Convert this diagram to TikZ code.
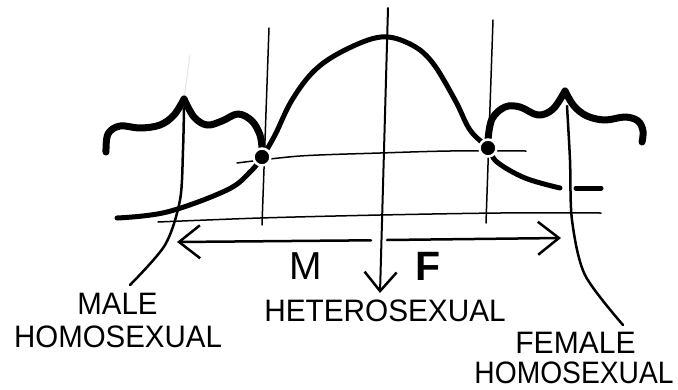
\documentclass[tikz,border=0pt]{standalone}
\usepackage{fontspec}
\usepackage{graphicx}
\setmainfont{Liberation Sans}
\usetikzlibrary{arrows.meta}
\tikzset{
  thinline/.style={line width=1.5pt, line cap=round},
  curveline/.style={line width=5pt, line cap=round, line join=round},
  braceline/.style={line width=7pt, line cap=round, line join=round},
  stemline/.style={line width=2.5pt, line cap=round},
  arrowline/.style={line width=2.5pt, line cap=round, -{Straight Barb[length=21pt,width=33pt,line width=2.5pt]}},
  dot/.style={circle, fill=black, draw=white, line width=2.5pt, minimum size=17pt, inner sep=0pt},
  lbl/.style={inner sep=0pt, font=\fontsize{31}{31}\selectfont},
  big/.style={inner sep=0pt, font=\fontsize{39}{39}\selectfont}
}
\begin{document}
\begin{tikzpicture}[x=1pt,y=-1pt]
\useasboundingbox (0,0) rectangle (678,389);
\fill[white] (0,0) rectangle (678,389);

% thin horizontal lines
\draw[thinline] plot[smooth] coordinates {(237,163) (300,156) (380,153) (450,151) (526,151)};
\draw[thinline] plot[smooth] coordinates {(158,222) (260,218) (380,215) (500,213) (601,213)};

% vertical guide lines
\draw[thinline] (269,28) -- (262,225);
\draw[thinline] (493,20) -- (486,223);

% bell curve
\draw[curveline] plot[smooth, tension=0.6] coordinates {(117,218) (167,212) (227,190) (250,172) (262,157) (275,135) (292,100) (315,70) (345,50) (381,37) (410,44) (432,62) (455,100) (470,130) (488,148) (497,162) (525,178) (560,188)};
\draw[curveline] (576,188) -- (601,188);

% left brace
\draw[gray!20, line width=1pt] (184,99) -- (190,55);
\draw[braceline] plot[smooth, tension=0.6] coordinates {(106,152) (108,134) (120,126) (140,128) (160,125) (174,115) (184,99)};
\draw[braceline] plot[smooth, tension=0.6] coordinates {(184,99) (194,117) (207,125) (222,121) (238,114) (252,121) (260,135) (262,148)};
% right brace
\draw[braceline] plot[smooth, tension=0.6] coordinates {(488,140) (492,119) (505,107) (520,107) (538,115) (553,109) (565,91)};
\draw[braceline] plot[smooth, tension=0.6] coordinates {(565,91) (574,106) (587,116) (605,120) (625,117) (638,121) (643,131) (642,142)};

% dots
\node[dot] (dl) at (262,157) {};
\node[dot] (dr) at (488,148) {};

% labels
\node[lbl] (male) at (117.5,303.5) {\scalebox{0.95}[1]{MALE}};
\node[lbl] (mhomo) at (118,336.5) {\scalebox{0.95}[1]{HOMOSEXUAL}};
\node[lbl] (hetero) at (385,311) {\scalebox{0.96}[1]{HETEROSEXUAL}};
\node[lbl] (female) at (575.5,342.5) {\scalebox{0.97}[1]{FEMALE}};
\node[lbl] (fhomo) at (574,373) {\scalebox{0.91}[1]{HOMOSEXUAL}};
\node[big] (mm) at (306,266) {M};
\node[big, font=\fontsize{41}{41}\selectfont\bfseries] (ff) at (428,266) {F};

% stems to labels
\coordinate (ls) at (130,285);
\coordinate (rs) at (623,325);
\draw[stemline] plot[smooth] coordinates {(184,108) (183,150) (180,200) (165,245) (ls)};
\draw[stemline] plot[smooth] coordinates {(567,106) (570,160) (572,220) (585,275) (rs)};

% double arrow
\coordinate (al) at (177,242);
\coordinate (ar) at (561,238);
\draw[arrowline] (371,240.3) -- (al);
\draw[arrowline] (387,240) -- (ar);

% centre arrow
\coordinate (ct) at (388,8);
\coordinate (cb) at (380,293);
\draw[arrowline, -{Straight Barb[length=19pt,width=32pt,line width=2.5pt]}, line width=2pt] (ct) -- (cb);
\end{tikzpicture}
\end{document}
